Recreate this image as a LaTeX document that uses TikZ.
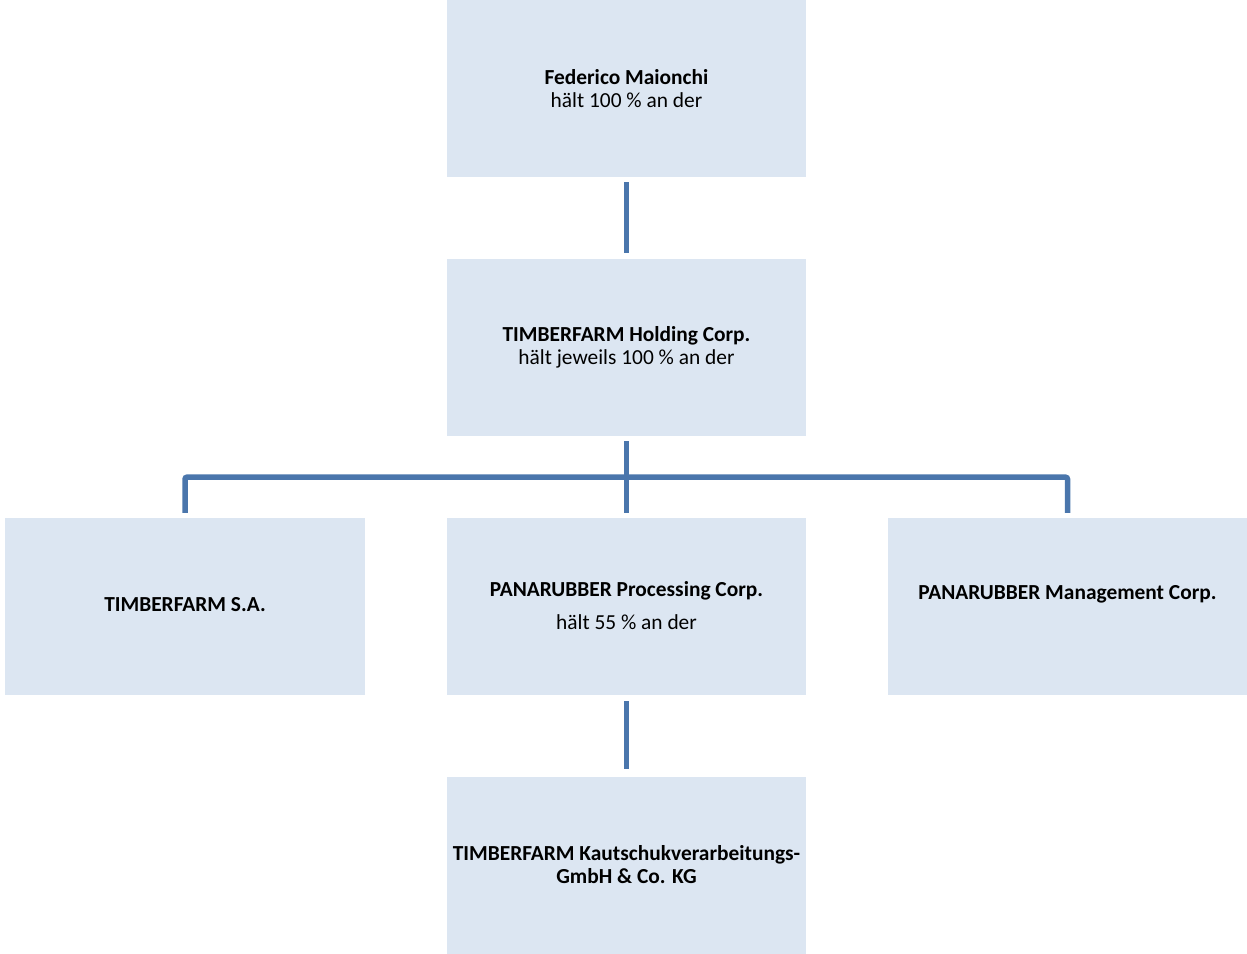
\documentclass[tikz,border=0pt]{standalone}
\usepackage{fontspec}
\setmainfont{Carlito}
\usetikzlibrary{calc}
\definecolor{boxfill}{RGB}{220,230,242}
\definecolor{linecol}{RGB}{74,118,172}
\begin{document}
\begin{tikzpicture}[x=1pt,y=-1pt,
  orgfont/.style={font=\fontsize{21.4}{23}\selectfont},
  orgbox/.style={fill=boxfill, draw=none, minimum width=359.5pt, minimum height=177pt, inner sep=0pt, align=center, orgfont},
  conn/.style={draw=linecol, line width=5.5pt, rounded corners=2pt}]
\useasboundingbox (0,0) rectangle (1247,953);
\node[orgbox] (fm) at (626.5,88.5) {\textbf{Federico Maionchi}\\hält 100 \% an der};
\node[orgbox] (th) at (626.5,347.5) {\textbf{TIMBERFARM Holding Corp.}\\hält jeweils 100 \% an der};
\node[orgbox] (ts) at (185,606.5) {};
\node[orgfont] (tst) at (185,605) {\textbf{TIMBERFARM S.A.}};
\node[orgbox] (pp) at (626.5,606.5) {};
\node[align=center,orgfont] (ppt) at (626.5,605.5) {\textbf{PANARUBBER Processing Corp.}\\[10pt]hält 55 \% an der};
\node[orgbox] (pm) at (1067.5,606.5) {};
\node[orgfont] (pmt) at (1067.5,594) {\textbf{PANARUBBER Management Corp.}};
\node[orgbox] (tk) at (626.5,865) {\textbf{TIMBERFARM Kautschukverarbeitungs-}\\\textbf{GmbH \& Co. KG}};
\draw[conn] ($(fm.south)+(0,5)$) -- ($(th.north)+(0,-6)$);
\draw[conn] ($(th.south)+(0,5)$) -- ($(pp.north)+(0,-5)$);
\draw[conn] ($(ts.north)+(0,-5)$) |- ($(th.south)+(0,41)$) -| ($(pm.north)+(0,-5)$);
\draw[conn] ($(pp.south)+(0,6)$) -- ($(tk.north)+(0,-7)$);
\end{tikzpicture}
\end{document}
